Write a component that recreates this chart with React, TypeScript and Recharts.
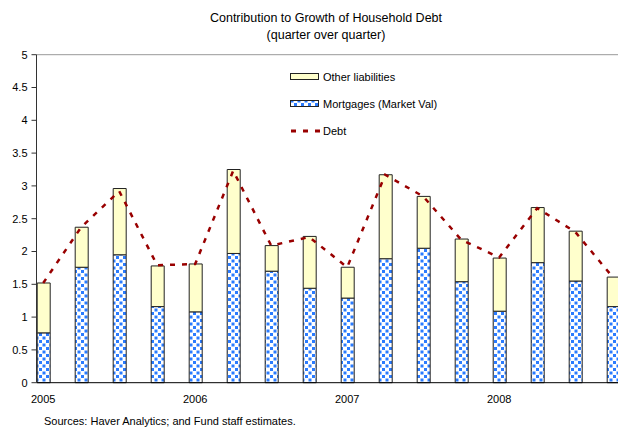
import {
  Bar,
  ComposedChart,
  Line,
  ReferenceLine,
  XAxis,
  YAxis,
} from "recharts";

const quarters = [
  "2005Q1", "2005Q2", "2005Q3", "2005Q4",
  "2006Q1", "2006Q2", "2006Q3", "2006Q4",
  "2007Q1", "2007Q2", "2007Q3", "2007Q4",
  "2008Q1", "2008Q2", "2008Q3", "2008Q4",
];
const mortgages = [0.76, 1.76, 1.95, 1.16, 1.08, 1.97, 1.7, 1.44, 1.29, 1.89, 2.05, 1.54, 1.09, 1.83, 1.55, 1.16];
const otherLiabilities = [0.76, 0.61, 1.01, 0.62, 0.73, 1.28, 0.39, 0.79, 0.47, 1.28, 0.79, 0.65, 0.81, 0.84, 0.76, 0.45];
const debt = [1.52, 2.37, 2.92, 1.79, 1.81, 3.23, 2.09, 2.22, 1.76, 3.17, 2.84, 2.18, 1.91, 2.66, 2.3, 1.6];
const yTicks = [0, 0.5, 1, 1.5, 2, 2.5, 3, 3.5, 4, 4.5, 5];

const rows = quarters.map((q, i) => ({
  q,
  mortgages: mortgages[i],
  other: otherLiabilities[i],
  debt: debt[i],
}));

const FONT = "'Liberation Sans', Arial, sans-serif";
const DEBT_COLOR = "#990000";

// only the first quarter of each year gets a label
const YearTick = (props: any) => {
  const q: string = props.payload.value;
  if (!q.endsWith("Q1")) return <g />;
  return (
    <text
      x={props.x}
      y={props.y + 18}
      textAnchor="middle"
      fontSize={11}
      fontFamily={FONT}
      fill="#000"
    >
      {q.slice(0, 4)}
    </text>
  );
};

const legendItems = [
  { label: "Other liabilities", kind: "other" },
  { label: "Mortgages (Market Val)", kind: "mort" },
  { label: "Debt", kind: "line" },
];

const LegendBox = () => (
  <div style={{ fontFamily: FONT, fontSize: 11, color: "#000" }}>
    {legendItems.map((it) => (
      <div key={it.label} style={{ display: "flex", alignItems: "center", height: 27 }}>
        <svg width={31} height={10} style={{ marginRight: 2 }}>
          {it.kind === "line" ? (
            <line x1={1} y1={5} x2={31} y2={5} stroke={DEBT_COLOR} strokeWidth={3} strokeDasharray="5 7" />
          ) : (
            <rect
              x={0.5}
              y={1.5}
              width={28}
              height={6}
              fill={it.kind === "other" ? "#ffffcc" : "url(#mortDots)"}
              stroke="#222"
              strokeWidth={1}
            />
          )}
        </svg>
        <span>{it.label}</span>
      </div>
    ))}
  </div>
);

export default function App() {
  return (
    <div
      style={{
        position: "absolute",
        left: 0,
        top: 0,
        width: 618,
        height: 428,
        background: "#fff",
        fontFamily: FONT,
        overflow: "hidden",
      }}
    >
      <div
        style={{
          position: "absolute",
          top: 10,
          left: 0,
          width: 652,
          textAlign: "center",
          fontSize: 12.5,
          lineHeight: "17px",
          color: "#000",
        }}
      >
        Contribution to Growth of Household Debt
        <br />
        (quarter over quarter)
      </div>
      <ComposedChart
        width={618}
        height={428}
        data={rows}
        margin={{ top: 54.7, right: 0, bottom: 0, left: 0 }}
      >
        <defs>
          <pattern id="mortDots" width={7} height={7} patternUnits="userSpaceOnUse">
            <rect width={7} height={7} fill="#fff" />
            <rect x={0.5} y={0.5} width={3} height={3} fill="#2a7bff" />
            <rect x={4} y={4} width={3} height={3} fill="#2a7bff" />
          </pattern>
        </defs>
        <XAxis
          dataKey="q"
          interval={0}
          height={45.3}
          padding={{ left: -12.3, right: -14.2 }}
          axisLine={{ stroke: "#000", strokeWidth: 1 }}
          tickLine={false}
          tickSize={0}
          tick={YearTick}
        />
        <YAxis
          domain={[0, 5]}
          ticks={yTicks}
          width={36.5}
          axisLine={{ stroke: "#333" }}
          tickLine={{ stroke: "#333" }}
          tickSize={5}
          tickMargin={4}
          tick={{ fontSize: 11, fontFamily: FONT, fill: "#000" }}
        />
        <ReferenceLine y={5} stroke="#999" strokeWidth={1} />
        <Bar
          dataKey="mortgages"
          stackId="a"
          barSize={13}
          fill="url(#mortDots)"
          stroke="#222"
          strokeWidth={1}
          isAnimationActive={false}
        />
        <Bar
          dataKey="other"
          stackId="a"
          barSize={13}
          fill="#ffffcc"
          stroke="#222"
          strokeWidth={1}
          isAnimationActive={false}
        />
        <Line
          dataKey="debt"
          stroke={DEBT_COLOR}
          strokeWidth={2.5}
          strokeDasharray="5 7"
          dot={false}
          activeDot={false}
          isAnimationActive={false}
        />
      </ComposedChart>
      <div style={{ position: "absolute", left: 290, top: 63 }}>
        <LegendBox />
      </div>
      <div
        style={{
          position: "absolute",
          left: 44,
          top: 415,
          fontSize: 11,
          color: "#000",
          whiteSpace: "nowrap",
        }}
      >
        Sources: Haver Analytics; and Fund staff estimates.
      </div>
    </div>
  );
}
